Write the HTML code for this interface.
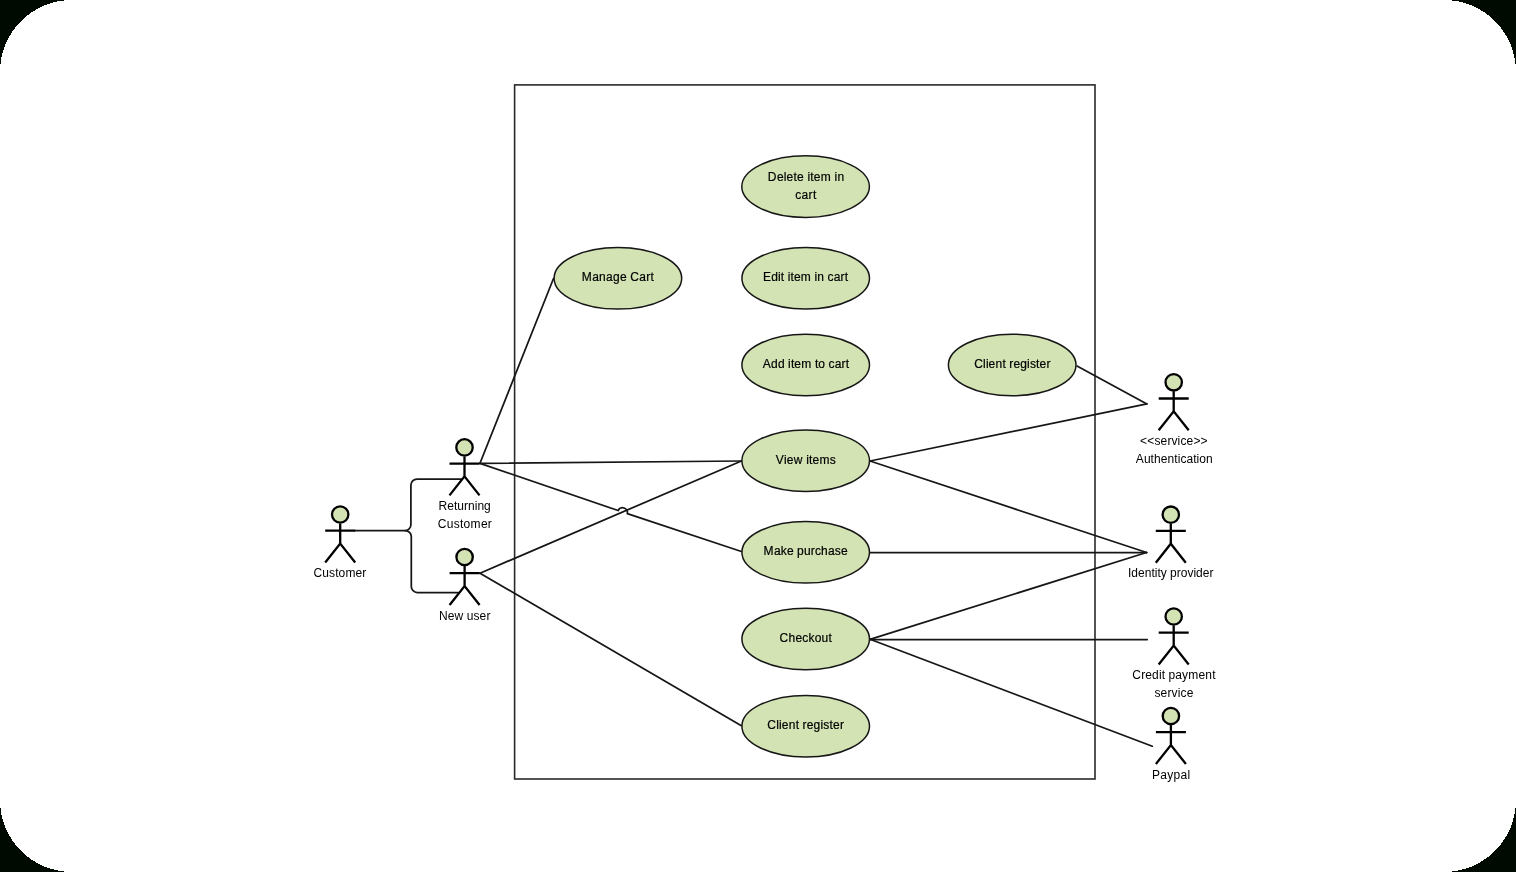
<!DOCTYPE html><html><head><meta charset="utf-8"><style>html,body{margin:0;padding:0;width:1516px;height:872px;overflow:hidden;background:#000a00}svg{display:block;will-change:transform}text{font-family:"Liberation Sans",sans-serif;font-size:12px;fill:#000}text.e{stroke:#000;stroke-width:0.2px}</style></head><body>
<svg width="1516" height="872" viewBox="0 0 1516 872">
<rect x="0" y="0" width="1516" height="872" rx="72" ry="72" fill="#ffffff" shape-rendering="crispEdges"/>
<rect x="514.6" y="84.9" width="580.4" height="694.1" fill="none" stroke="#2a2a2a" stroke-width="1.6"/>
<g stroke="#161616" stroke-width="1.75" fill="none" stroke-linecap="round" stroke-linejoin="round">
<line x1="553.5" y1="278.5" x2="480" y2="463.3"/>
<line x1="480" y1="463.3" x2="741.4" y2="461.0"/>
<line x1="480" y1="573.2" x2="741.4" y2="461.0"/>
<line x1="480" y1="573.2" x2="741.4" y2="725.7"/>
<line x1="870" y1="461.0" x2="1146.9" y2="403.9"/>
<line x1="1077" y1="366.0" x2="1146.9" y2="403.9"/>
<line x1="870" y1="461.0" x2="1146.6" y2="552.5"/>
<line x1="870" y1="552.5" x2="1146.6" y2="552.5"/>
<line x1="870" y1="639.3" x2="1146.6" y2="552.5"/>
<line x1="870" y1="639.5" x2="1147.2" y2="639.5"/>
<line x1="870" y1="639.3" x2="1152.3" y2="746.2"/>
<path d="M480 463.3 L618.1 510.5 A4.9 4.9 0 0 1 627.3 513.7 L741.4 551.5"/>
<path d="M355 530.7H404.9A6 6 0 0 0 410.9 524.7V485.1A6 6 0 0 1 416.9 479.1H461"/>
<path d="M405.3 530.7A6 6 0 0 1 411.3 536.7V586.5A6 6 0 0 0 417.3 592.5H458"/>
</g>
<g fill="#d3e3b4" stroke="#161616" stroke-width="1.5">
<ellipse cx="805.6" cy="186.6" rx="63.8" ry="30.8"/>
<ellipse cx="617.9" cy="278.3" rx="63.8" ry="30.8"/>
<ellipse cx="805.7" cy="278.25" rx="63.8" ry="30.8"/>
<ellipse cx="805.7" cy="365.0" rx="63.8" ry="30.8"/>
<ellipse cx="1012.2" cy="365.0" rx="63.8" ry="30.8"/>
<ellipse cx="805.7" cy="460.7" rx="63.8" ry="30.8"/>
<ellipse cx="805.7" cy="552.3" rx="63.8" ry="30.8"/>
<ellipse cx="805.7" cy="639.0" rx="63.8" ry="30.8"/>
<ellipse cx="805.7" cy="726.2" rx="63.8" ry="30.8"/>
</g>
<g stroke="#000" stroke-width="2.3" fill="none">
<path d="M340.2 523.5V543.5M325.2 530.7H355.2M325.2 562.5L340.2 543.5L355.2 562.5"/>
<circle cx="340.2" cy="514.5" r="8.2" fill="#d3e3b4"/>
<path d="M464.5 456.4V476.4M449.5 463.59999999999997H479.5M449.5 495.4L464.5 476.4L479.5 495.4"/>
<circle cx="464.5" cy="447.4" r="8.2" fill="#d3e3b4"/>
<path d="M464.6 566.0V586.0M449.6 573.2H479.6M449.6 605.0L464.6 586.0L479.6 605.0"/>
<circle cx="464.6" cy="557.0" r="8.2" fill="#d3e3b4"/>
<path d="M1173.7 391.3V411.3M1158.7 398.5H1188.7M1158.7 430.3L1173.7 411.3L1188.7 430.3"/>
<circle cx="1173.7" cy="382.3" r="8.2" fill="#d3e3b4"/>
<path d="M1170.8 523.7V543.7M1155.8 530.9000000000001H1185.8M1155.8 562.7L1170.8 543.7L1185.8 562.7"/>
<circle cx="1170.8" cy="514.7" r="8.2" fill="#d3e3b4"/>
<path d="M1173.7 625.5V645.5M1158.7 632.7H1188.7M1158.7 664.5L1173.7 645.5L1188.7 664.5"/>
<circle cx="1173.7" cy="616.5" r="8.2" fill="#d3e3b4"/>
<path d="M1170.9 725.0V745.0M1155.9 732.2H1185.9M1155.9 764.0L1170.9 745.0L1185.9 764.0"/>
<circle cx="1170.9" cy="716.0" r="8.2" fill="#d3e3b4"/>
</g>
<text class="e" x="767.8 776.9 783.8 786.6 793.6 797.1 804.0 807.5 810.3 813.7 820.7 831.1 834.6 837.4" y="181.00">Delete item in</text>
<text class="e" x="795.3 801.6 808.6 812.9" y="198.90">cart</text>
<text class="e" x="581.8 592.2 599.1 606.0 613.0 619.9 626.9 630.3 639.3 646.3 650.5" y="281.20">Manage Cart</text>
<text class="e" x="762.9 771.2 778.0 780.8 784.2 787.7 790.4 793.9 800.7 811.1 814.5 817.2 824.1 827.6 833.7 840.6 844.8" y="281.00">Edit item in cart</text>
<text class="e" x="762.8 771.0 777.9 784.7 788.1 790.9 794.3 801.2 811.5 814.9 818.3 825.2 828.6 834.8 841.6 845.8" y="368.00">Add item to cart</text>
<text class="e" x="974.2 983.1 985.9 988.6 995.5 1002.4 1005.8 1009.3 1013.4 1020.3 1027.1 1029.9 1036.1 1039.5 1046.4" y="368.40">Client register</text>
<text class="e" x="775.8 784.1 786.8 793.8 802.8 806.2 809.0 812.4 819.4 829.7" y="463.90">View items</text>
<text class="e" x="763.6 773.9 780.7 786.9 793.7 797.1 803.9 810.8 814.9 821.0 827.9 834.7 840.9" y="555.40">Make purchase</text>
<text class="e" x="779.5 788.5 795.4 802.3 808.5 814.7 821.6 828.5" y="642.10">Checkout</text>
<text class="e" x="767.3 776.3 779.1 781.8 788.7 795.7 799.1 802.6 806.7 813.6 820.5 823.3 829.5 833.0 839.9" y="729.00">Client register</text>
<text x="313.5 322.3 329.1 335.2 338.6 345.4 355.5 362.3" y="577.10">Customer</text>
<text x="438.6 447.3 454.0 457.3 464.0 468.0 474.7 477.4 484.1" y="509.90">Returning</text>
<text x="437.8 446.8 453.8 460.0 463.5 470.4 480.9 487.8" y="527.70">Customer</text>
<text x="438.9 447.7 454.5 463.3 466.7 473.5 479.6 486.4" y="619.80">New user</text>
<text x="1140.0 1147.2 1154.4 1160.5 1167.4 1171.5 1177.6 1180.4 1186.5 1193.4 1200.6" y="444.60">&lt;&lt;service&gt;&gt;</text>
<text x="1135.8 1143.9 1150.6 1154.0 1160.8 1167.6 1174.3 1177.7 1180.4 1186.5 1193.3 1196.6 1199.3 1206.1" y="462.90">Authentication</text>
<text x="1128.0 1131.3 1138.0 1144.7 1151.4 1154.7 1157.4 1160.7 1166.7 1170.1 1176.8 1180.8 1187.4 1193.5 1196.1 1202.8 1209.5" y="577.00">Identity provider</text>
<text x="1132.3 1141.2 1145.3 1152.1 1158.9 1161.7 1165.1 1168.5 1175.3 1182.1 1188.3 1198.5 1205.3 1212.2" y="679.20">Credit payment</text>
<text x="1154.4 1160.6 1167.4 1171.5 1177.7 1180.5 1186.7" y="696.80">service</text>
<text x="1151.9 1160.3 1167.2 1173.5 1180.5 1187.4" y="778.50">Paypal</text>
</svg></body></html>
